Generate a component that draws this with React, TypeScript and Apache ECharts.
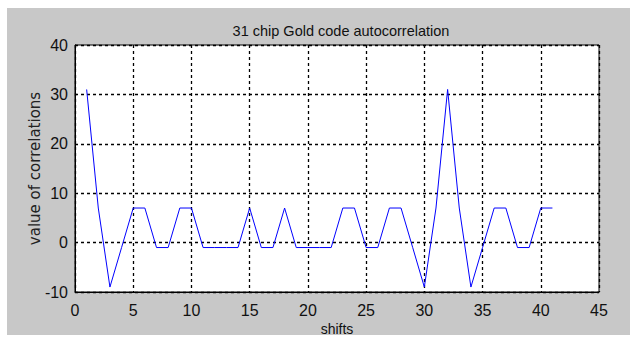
import React, { useEffect, useRef } from "react";
import * as echarts from "echarts";

const shifts: number[] = [
  1, 2, 3, 4, 5, 6, 7, 8, 9, 10, 11, 12, 13, 14, 15, 16, 17, 18, 19, 20, 21,
  22, 23, 24, 25, 26, 27, 28, 29, 30, 31, 32, 33, 34, 35, 36, 37, 38, 39, 40, 41,
];
const correlations: number[] = [
  31, 7, -9, -1, 7, 7, -1, -1, 7, 7, -1, -1, -1, -1, 7, -1, -1, 7, -1, -1, -1,
  -1, 7, 7, -1, -1, 7, 7, -1, -9, 7, 31, 7, -9, -1, 7, 7, -1, -1, 7, 7,
];
const xTicks = { min: 0, max: 45, interval: 5 };
const yTicks = { min: -10, max: 40, interval: 10 };
const titleText = "31 chip Gold code autocorrelation";
const xName = "shifts";
const yName = "value of correlations";

const narrow = "'Liberation Sans Narrow', 'Liberation Sans', Arial, sans-serif";

export default function App() {
  const ref = useRef<HTMLDivElement>(null);
  useEffect(() => {
    if (!ref.current) return;
    const chart = echarts.init(ref.current, undefined, { renderer: "svg" });
    const splitLine = {
      show: true,
      lineStyle: { color: "#000", type: [3, 3] as any, width: 1.3 },
    };
    chart.setOption({
      animation: false,
      backgroundColor: "#ffffff",
      graphic: [
        {
          type: "rect",
          z: -10,
          silent: true,
          shape: { x: 7, y: 8, width: 623, height: 327 },
          style: { fill: "#c8c8c8" },
        },
      ],
      title: {
        text: titleText,
        left: 336,
        top: 18,
        textAlign: "center",
        textStyle: {
          fontFamily: narrow,
          fontSize: 14.5,
          fontWeight: "normal",
          color: "#111",
        },
      },
      grid: {
        left: 75,
        right: 31,
        top: 45,
        bottom: 45,
        show: true,
        containLabel: false,
        outerBoundsMode: "none",
        backgroundColor: "#ffffff",
        borderColor: "#000",
        borderWidth: 1,
      },
      xAxis: {
        type: "value",
        min: xTicks.min,
        max: xTicks.max,
        interval: xTicks.interval,
        name: xName,
        nameLocation: "middle",
        nameGap: 30,
        nameMoveOverlap: false,
        nameTextStyle: { fontFamily: narrow, fontSize: 14, color: "#111" },
        axisLine: { show: true, onZero: false, lineStyle: { color: "#000" } },
        axisTick: { show: false },
        axisLabel: {
          fontFamily: narrow,
          fontSize: 16,
          color: "#111",
          margin: 10,
        },
        splitLine,
      },
      yAxis: {
        type: "value",
        min: yTicks.min,
        max: yTicks.max,
        interval: yTicks.interval,
        name: yName,
        nameLocation: "middle",
        nameGap: 33,
        nameMoveOverlap: false,
        nameTextStyle: {
          fontFamily: "'DejaVu Sans', sans-serif",
          fontSize: 15,
          color: "#222",
        },
        axisLine: { show: true, onZero: false, lineStyle: { color: "#000" } },
        axisTick: { show: false },
        axisLabel: {
          fontFamily: narrow,
          fontSize: 16,
          color: "#111",
          margin: 7,
        },
        splitLine,
      },
      series: [
        {
          type: "line",
          data: shifts.map((s, i) => [s, correlations[i]]),
          showSymbol: false,
          lineStyle: { color: "#0000ff", width: 1 },
          itemStyle: { color: "#0000ff" },
        },
      ],
    });
    return () => chart.dispose();
  }, []);
  return (
    <div
      ref={ref}
      style={{ position: "absolute", left: 0, top: 0, width: 630, height: 337 }}
    />
  );
}
